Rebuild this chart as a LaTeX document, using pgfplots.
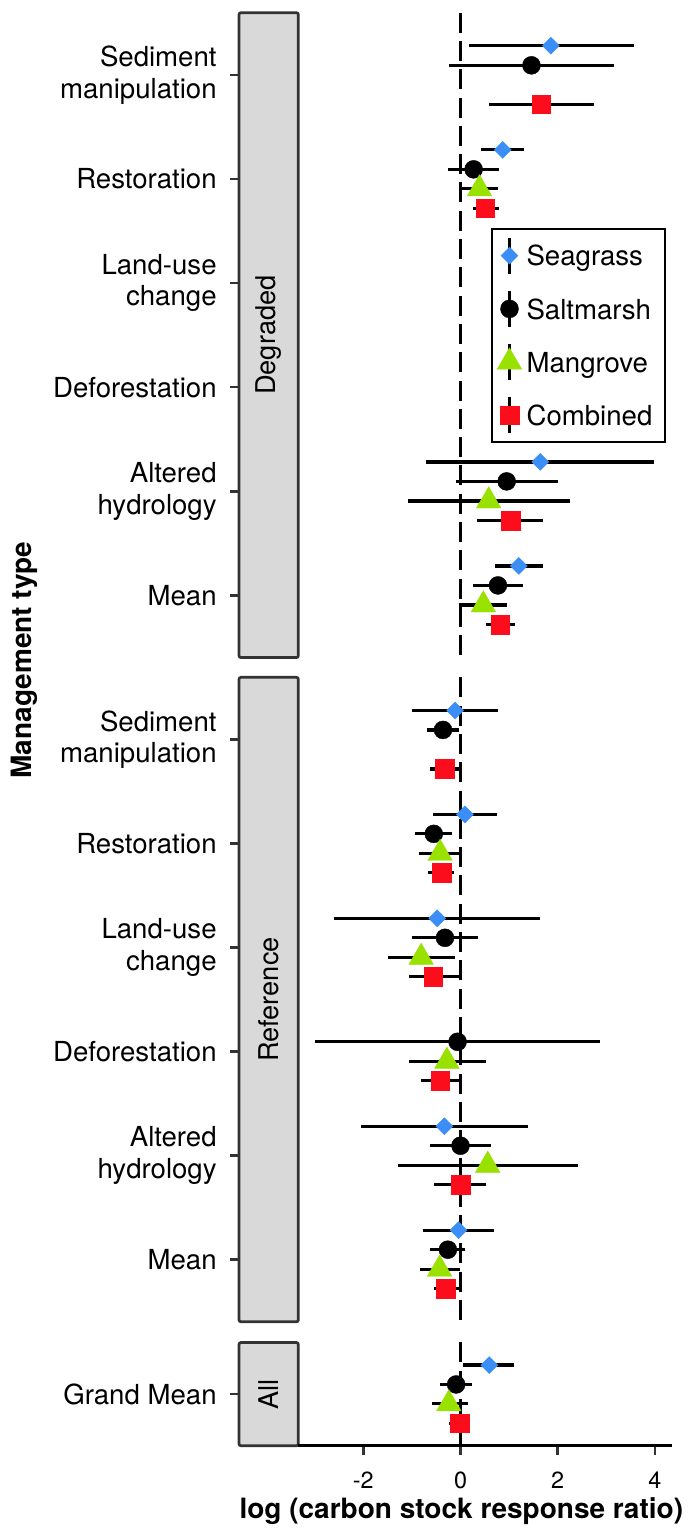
\documentclass[border=0pt]{standalone}
\usepackage{fontspec}
\setmainfont{TeX Gyre Heros}
\usepackage{pgfplots}
\usepackage{pgfplotstable}
\pgfplotsset{compat=1.18}

\definecolor{sg}{HTML}{3A8EF6}
\definecolor{mg}{HTML}{99E100}
\definecolor{cb}{HTML}{FC0D1B}
\definecolor{stripfill}{HTML}{D9D9D9}
\definecolor{g20}{HTML}{333333}

% Degraded
\pgfplotstableread{
c x lo hi
1 1.86 0.18 3.56
2 0.87 0.42 1.31
5 1.64 -0.70 3.98
6 1.20 0.72 1.70
}\dSG
\pgfplotstableread{
c x lo hi
1 1.46 -0.24 3.16
2 0.27 -0.26 0.80
5 0.95 -0.10 2.01
6 0.77 0.25 1.29
}\dSM
\pgfplotstableread{
c x lo hi
2 0.39 0.01 0.78
5 0.58 -1.09 2.25
6 0.47 -0.04 0.96
}\dMG
\pgfplotstableread{
c x lo hi
1 1.66 0.58 2.75
2 0.51 0.26 0.79
5 1.03 0.34 1.70
6 0.82 0.52 1.12
}\dCB
% Reference
\pgfplotstableread{
c x lo hi
1 -0.11 -1.00 0.77
2 0.09 -0.57 0.75
3 -0.48 -2.61 1.64
5 -0.33 -2.05 1.39
6 -0.04 -0.77 0.68
}\rSG
\pgfplotstableread{
c x lo hi
1 -0.36 -0.68 -0.03
2 -0.55 -0.94 -0.17
3 -0.32 -0.99 0.37
4 -0.06 -2.99 2.87
5 0.00 -0.63 0.63
6 -0.26 -0.62 0.10
}\rSM
\pgfplotstableread{
c x lo hi
2 -0.42 -0.86 0.04
3 -0.81 -1.50 -0.11
4 -0.28 -1.07 0.52
5 0.56 -1.29 2.42
6 -0.43 -0.84 -0.02
}\rMG
\pgfplotstableread{
c x lo hi
1 -0.33 -0.63 -0.02
2 -0.39 -0.67 -0.13
3 -0.56 -1.07 -0.01
4 -0.42 -0.81 -0.01
5 0.00 -0.54 0.52
6 -0.31 -0.55 -0.04
}\rCB
% All
\pgfplotstableread{
c x lo hi
1 0.59 0.06 1.11
}\aSG
\pgfplotstableread{
c x lo hi
1 -0.09 -0.43 0.23
}\aSM
\pgfplotstableread{
c x lo hi
1 -0.24 -0.58 0.16
}\aMG
\pgfplotstableread{
c x lo hi
1 -0.02 -0.24 0.20
}\aCB

\newcommand{\lblfont}{\fontsize{13.8}{15.8}\selectfont}
\newcommand{\stripfont}{\fontsize{13.6}{15.6}\selectfont}

\pgfplotsset{
  panel/.style={
    scale only axis, width=216.35pt,
    xmin=-4.558, xmax=4.346,
    enlargelimits=false, clip=false,
    axis x line*=bottom, axis y line*=left,
    axis line style={draw=none},
    tick align=outside,
    major tick length=4.5pt,
    major tick style={g20, line width=1.35pt},
    yticklabel style={font=\lblfont, align=right, inner sep=0pt, xshift=-6.5pt},
    xticklabel style={font=\fontsize{11.7}{13}\selectfont, inner sep=0pt, yshift=-8.3pt},
    anchor=south west,
  },
  bars/.style={only marks, mark=none, forget plot, black,
    error bars/.cd, x dir=both, x explicit, error mark=none,
    error bar style={black, line width=1.6pt, solid}},
  errkey/.style={legend image code/.code={%
    \draw[black, line width=1.5pt] (0pt,-9pt) -- (0pt,9pt);
    \draw[##1] plot coordinates {(0pt,0pt)};}},
  msg/.style={only marks, mark=square*, mark size=3.0pt, color=sg, mark options={solid, rotate=45, line width=0.2pt}},
  msm/.style={only marks, mark=*, mark size=4.5pt, color=black, mark options={solid, line width=0.2pt}},
  mmg/.style={only marks, mark=triangle*, mark size=7.1pt, color=mg, mark options={solid, line width=0.2pt}},
  mcb/.style={only marks, mark=square*, mark size=4.65pt, color=cb, mark options={solid, line width=0.2pt}},
  zeroline/.style={black, line width=1.5pt, dash pattern=on 10pt off 4.15pt, forget plot, mark=none},
}

\begin{document}
\begin{tikzpicture}
\path[use as bounding box] (0,0) rectangle (344.5pt,765pt);

% ---------------- Degraded ----------------
\begin{axis}[panel, at={(119.5pt,436.2pt)}, height=322.45pt,
  ymin=-6.6, ymax=-0.4, xtick=\empty,
  ytick={-6,-5,-4,-3,-2,-1},
  yticklabels={Mean,{Altered\\hydrology},Deforestation,{Land-use\\change},Restoration,{Sediment\\manipulation}},
  legend cell align=left,
  legend style={at={(0.583,0.666)}, anchor=north west, draw=black, line width=1pt,
    inner xsep=2.46pt, inner ysep=0pt, row sep=0pt, column sep=2.4pt,
    nodes={inner sep=0pt, minimum height=26.6pt, text width=66.9pt, align=left, font=\lblfont, text depth=0pt}},
]
\draw[fill=stripfill, draw=g20, line width=1.35pt, rounded corners=1pt] (axis cs:-4.558,-6.6) rectangle (axis cs:-3.337,-0.4);
\node[rotate=90, font=\stripfont] at (axis cs:-3.947,-3.5) {Degraded};
\addplot[bars] table[x=x, y expr=-\thisrow{c}+0.28125, x error plus expr=\thisrow{hi}-\thisrow{x}, x error minus expr=\thisrow{x}-\thisrow{lo}] {\dSG};
\addplot[bars] table[x=x, y expr=-\thisrow{c}+0.09375, x error plus expr=\thisrow{hi}-\thisrow{x}, x error minus expr=\thisrow{x}-\thisrow{lo}] {\dSM};
\addplot[bars] table[x=x, y expr=-\thisrow{c}-0.09375, x error plus expr=\thisrow{hi}-\thisrow{x}, x error minus expr=\thisrow{x}-\thisrow{lo}] {\dMG};
\addplot[bars] table[x=x, y expr=-\thisrow{c}-0.28125, x error plus expr=\thisrow{hi}-\thisrow{x}, x error minus expr=\thisrow{x}-\thisrow{lo}] {\dCB};
\addplot[msg, errkey] table[x=x, y expr=-\thisrow{c}+0.28125] {\dSG};
\addlegendentry{Seagrass}
\addplot[msm, errkey] table[x=x, y expr=-\thisrow{c}+0.09375] {\dSM};
\addlegendentry{Saltmarsh}
\addplot[mmg, errkey] table[x=x, y expr=-\thisrow{c}-0.09375] {\dMG};
\addlegendentry{Mangrove}
\addplot[mcb, errkey] table[x=x, y expr=-\thisrow{c}-0.28125] {\dCB};
\addlegendentry{Combined}
\addplot[zeroline] coordinates {(0,-0.4) (0,-6.6)};
\end{axis}

% ---------------- Reference ----------------
\begin{axis}[panel, at={(119.5pt,104.1pt)}, height=322.25pt,
  ymin=-6.6, ymax=-0.4, xtick=\empty,
  ytick={-6,-5,-4,-3,-2,-1},
  yticklabels={Mean,{Altered\\hydrology},Deforestation,{Land-use\\change},Restoration,{Sediment\\manipulation}},
]
\draw[fill=stripfill, draw=g20, line width=1.35pt, rounded corners=1pt] (axis cs:-4.558,-6.6) rectangle (axis cs:-3.337,-0.4);
\node[rotate=90, font=\stripfont] at (axis cs:-3.947,-3.5) {Reference};
\addplot[bars] table[x=x, y expr=-\thisrow{c}+0.28125, x error plus expr=\thisrow{hi}-\thisrow{x}, x error minus expr=\thisrow{x}-\thisrow{lo}] {\rSG};
\addplot[bars] table[x=x, y expr=-\thisrow{c}+0.09375, x error plus expr=\thisrow{hi}-\thisrow{x}, x error minus expr=\thisrow{x}-\thisrow{lo}] {\rSM};
\addplot[bars] table[x=x, y expr=-\thisrow{c}-0.09375, x error plus expr=\thisrow{hi}-\thisrow{x}, x error minus expr=\thisrow{x}-\thisrow{lo}] {\rMG};
\addplot[bars] table[x=x, y expr=-\thisrow{c}-0.28125, x error plus expr=\thisrow{hi}-\thisrow{x}, x error minus expr=\thisrow{x}-\thisrow{lo}] {\rCB};
\addplot[msg] table[x=x, y expr=-\thisrow{c}+0.28125] {\rSG};
\addplot[msm] table[x=x, y expr=-\thisrow{c}+0.09375] {\rSM};
\addplot[mmg] table[x=x, y expr=-\thisrow{c}-0.09375] {\rMG};
\addplot[mcb] table[x=x, y expr=-\thisrow{c}-0.28125] {\rCB};
\addplot[zeroline] coordinates {(0,-0.4) (0,-6.6)};
\end{axis}

% ---------------- All ----------------
\begin{axis}[panel, at={(119.5pt,42.1pt)}, height=51.65pt,
  ymin=-1.5, ymax=-0.5,
  xtick={-2,0,2,4}, xticklabels={-2,0,2,4},
  ytick={-1}, yticklabels={Grand Mean},
]
\draw[fill=stripfill, draw=g20, line width=1.35pt, rounded corners=1pt] (axis cs:-4.558,-1.5) rectangle (axis cs:-3.337,-0.5);
\node[rotate=90, font=\stripfont] at (axis cs:-3.947,-1) {All};
\addplot[bars] table[x=x, y expr=-\thisrow{c}+0.28125, x error plus expr=\thisrow{hi}-\thisrow{x}, x error minus expr=\thisrow{x}-\thisrow{lo}] {\aSG};
\addplot[bars] table[x=x, y expr=-\thisrow{c}+0.09375, x error plus expr=\thisrow{hi}-\thisrow{x}, x error minus expr=\thisrow{x}-\thisrow{lo}] {\aSM};
\addplot[bars] table[x=x, y expr=-\thisrow{c}-0.09375, x error plus expr=\thisrow{hi}-\thisrow{x}, x error minus expr=\thisrow{x}-\thisrow{lo}] {\aMG};
\addplot[bars] table[x=x, y expr=-\thisrow{c}-0.28125, x error plus expr=\thisrow{hi}-\thisrow{x}, x error minus expr=\thisrow{x}-\thisrow{lo}] {\aCB};
\addplot[msg] table[x=x, y expr=-\thisrow{c}+0.28125] {\aSG};
\addplot[msm] table[x=x, y expr=-\thisrow{c}+0.09375] {\aSM};
\addplot[mmg] table[x=x, y expr=-\thisrow{c}-0.09375] {\aMG};
\addplot[mcb] table[x=x, y expr=-\thisrow{c}-0.28125] {\aCB};
\addplot[zeroline] coordinates {(0,-0.5) (0,-1.5)};
\draw[black, line width=1.5pt] (axis cs:-3.337,-1.5) -- (axis cs:4.346,-1.5);
\end{axis}

\node[rotate=90, font=\bfseries\fontsize{14}{16}\selectfont] at (12pt,435pt) {Management type};
\node[anchor=base, font=\bfseries\fontsize{14}{16}\selectfont] at (230.65pt,5.5pt) {log (carbon stock response ratio)};
\end{tikzpicture}
\end{document}
